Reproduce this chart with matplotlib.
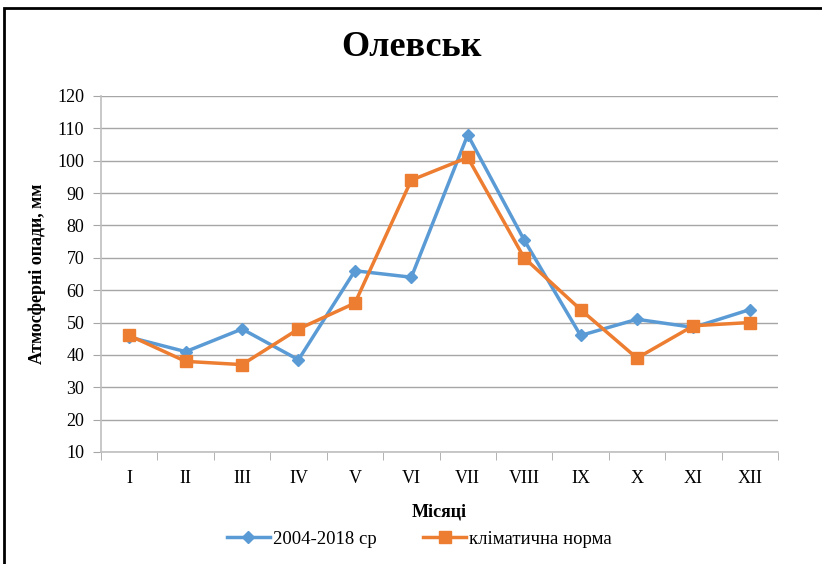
import matplotlib.pyplot as plt
from matplotlib.patches import Rectangle
import numpy as np

months = ["I", "II", "III", "IV", "V", "VI", "VII", "VIII", "IX", "X", "XI", "XII"]
avg_2004_2018 = [45.5, 41, 48, 38.5, 66, 64, 108, 75.5, 46, 51, 48.5, 54]
climate_norm = [46, 38, 37, 48, 56, 94, 101, 70, 54, 39, 49, 50]
yticks = list(range(10, 121, 10))

plt.rcParams['font.family'] = ['Liberation Serif', 'DejaVu Serif']

fig = plt.figure(figsize=(8.22, 5.64), dpi=100)
ax = fig.add_axes([0.1229, 0.1986, 0.8236, 0.6312])

# chart frame (only left/top edges visible in the crop)
fig.patches.append(Rectangle((0.005, -0.1), 1.1, 1.085, transform=fig.transFigure,
                             fill=False, edgecolor='black', linewidth=2))

x = np.arange(len(months))
ax.plot(x, avg_2004_2018, color='#5B9BD5', linewidth=2.5, marker='D', markersize=6,
        label='2004-2018 ср')
ax.plot(x, climate_norm, color='#ED7D31', linewidth=2.5, marker='s', markersize=8,
        label='кліматична норма')

ax.set_xlim(-0.5, 11.5)
ax.set_ylim(10, 120)
ax.set_yticks(yticks)
ax.set_xticks(x)
ax.set_xticklabels(months)
ax.set_xticks(np.arange(-0.5, 12, 1), minor=True)
ax.tick_params(axis='x', which='major', length=0, labelsize=13, pad=13)
ax.tick_params(axis='x', which='minor', length=6, color='#A6A6A6', direction='out')
ax.tick_params(axis='y', length=6, color='#A6A6A6', labelsize=13, pad=6)
ax.grid(axis='y', color='#A6A6A6', linewidth=1)
ax.set_axisbelow(True)
for s in ['top', 'right']:
    ax.spines[s].set_visible(False)
for s in ['left', 'bottom']:
    ax.spines[s].set_color('#BFBFBF')
    ax.spines[s].set_linewidth(1.2)

ax.set_xlabel('Місяці', fontsize=13, fontweight='bold', labelpad=12)
ax.set_ylabel('Атмосферні опади, мм', fontsize=13, fontweight='bold', labelpad=8)
fig.text(0.5, 0.915, 'Олевськ', ha='center', va='center', fontsize=26, fontweight='bold')

fig.legend(loc='center', bbox_to_anchor=(0.51, 0.044), ncol=2, frameon=False,
           fontsize=13.5, handlelength=2.3, columnspacing=2.5, handletextpad=0.15)

fig.savefig('out.png')
